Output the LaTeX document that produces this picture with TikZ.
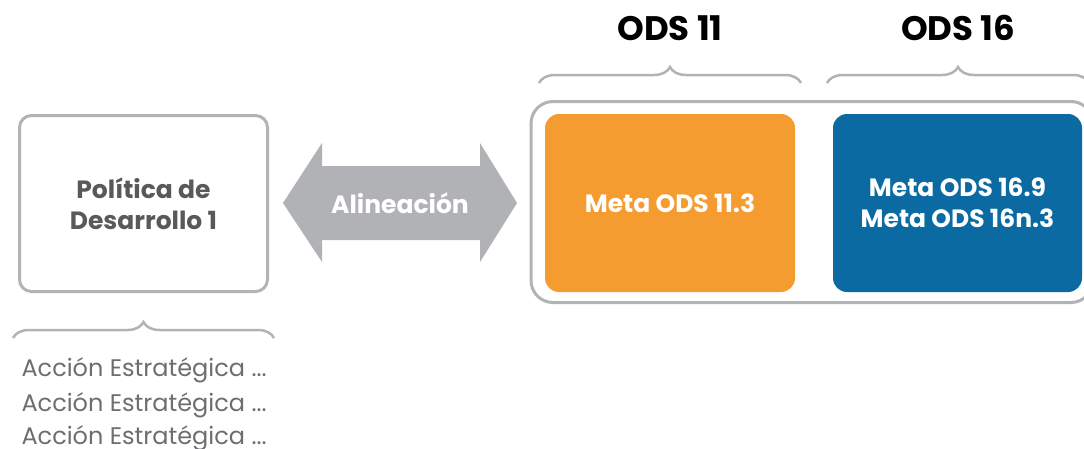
\documentclass[tikz,border=0pt]{standalone}
\usepackage{fontspec}
\setmainfont{Poppins}
\usetikzlibrary{positioning,decorations.pathreplacing}
\definecolor{framegray}{HTML}{B1B3B6}
\definecolor{arrowgray}{HTML}{B1B2B5}
\definecolor{darktext}{HTML}{58595B}
\definecolor{softtext}{HTML}{6D6E71}
\definecolor{odsorange}{HTML}{F59C30}
\definecolor{odsblue}{HTML}{0A6AA1}
\tikzset{
	policybox/.style={draw=framegray, line width=3pt, rounded corners=12pt, minimum width=248pt, minimum height=176pt, align=center, text=darktext, font=\fontsize{25}{31}\selectfont\bfseries},
	metabox/.style={rounded corners=14pt, minimum height=178pt, text=white, align=center, font=\fontsize{25}{31}\selectfont\bfseries},
	odstitle/.style={font=\fontsize{34}{38}\selectfont\bfseries},
	bracegray/.style={decorate, decoration={brace, amplitude=16pt}, draw=framegray, line width=2.5pt},
	actiontext/.style={anchor=west, text=softtext, font=\fontsize{24}{28}\selectfont},
}
\begin{document}
\begin{tikzpicture}[x=1pt, y=-1pt]
	\clip (0,0) rectangle (1084,448);
	\fill[white] (0,0) rectangle (1084,448);
	\node[policybox] (policy) at (143.5,203.5) {Política de\\Desarrollo 1};
	\fill[arrowgray] (283,203) -- (322,143) -- (322,166) -- (480,166) -- (480,143) -- (517,203) -- (480,262) -- (480,240) -- (322,240) -- (322,262) -- cycle;
	\node[text=white, font=\fontsize{25}{30}\selectfont\bfseries] (align) at (400,203) {Alineación};
	\node[draw=framegray, line width=3pt, rounded corners=22pt, minimum width=562pt, minimum height=201pt] (odsframe) at (812,202) {};
	\node[metabox, fill=odsorange, minimum width=250pt] (meta11) at (670,203) {Meta ODS 11.3};
	\node[metabox, fill=odsblue, minimum width=249pt] (meta16) at (957.5,203) {Meta ODS 16.9\\Meta ODS 16n.3};
	\node[odstitle] (ods11) at (670,28) {ODS 11};
	\node[odstitle] (ods16) at (958,28) {ODS 16};
	% braces
	\coordinate (b11a) at (539,83);
	\coordinate (b11b) at (801,83);
	\coordinate (b16a) at (827,83);
	\coordinate (b16b) at (1089,83);
	\coordinate (bpa) at (13,338);
	\coordinate (bpb) at (274,338);
	\draw[bracegray] (b11a) -- (b11b);
	\draw[bracegray] (b16a) -- (b16b);
	\draw[bracegray] (bpa) -- (bpb);
	\foreach \i/\y in {1/370,2/405,3/438}
		\node[actiontext] (action\i) at (18,\y) {Acción Estratégica ...};
\end{tikzpicture}
\end{document}
